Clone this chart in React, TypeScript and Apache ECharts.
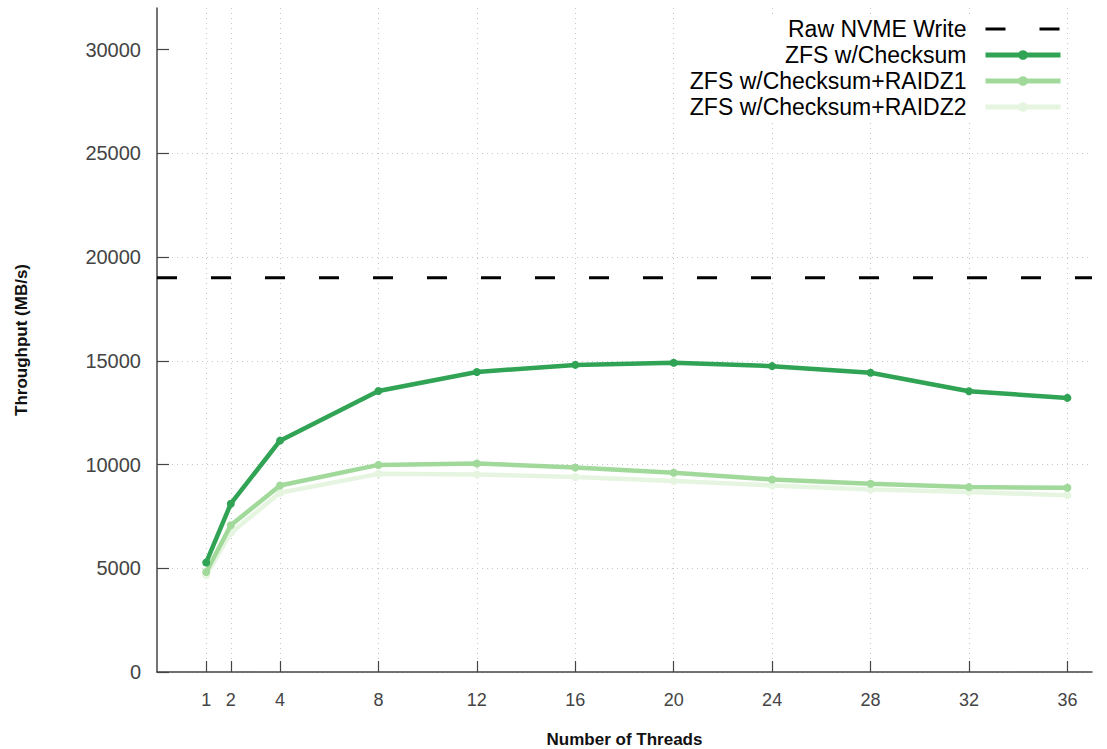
import React, { useEffect, useRef } from "react";
import * as echarts from "echarts";

const threads = [1, 2, 4, 8, 12, 16, 20, 24, 28, 32, 36];
const rawNvme = 19000;
const zfsChecksum = [5280, 8110, 11150, 13540, 14460, 14800, 14900, 14740, 14420, 13530, 13210];
const zfsRaidz1 = [4820, 7070, 8990, 9980, 10050, 9850, 9600, 9280, 9070, 8910, 8880];
const zfsRaidz2 = [4660, 6700, 8640, 9550, 9520, 9400, 9200, 8990, 8800, 8670, 8520];
const yTicks = [0, 5000, 10000, 15000, 20000, 25000, 30000];

const names = [
  "Raw NVME Write",
  "ZFS w/Checksum",
  "ZFS w/Checksum+RAIDZ1",
  "ZFS w/Checksum+RAIDZ2",
];
const colors = ["#000000", "#31a354", "#a1d99b", "#e5f5e0"];

export default function App() {
  const ref = useRef<HTMLDivElement>(null);
  useEffect(() => {
    if (!ref.current) return;
    const chart = echarts.init(ref.current, undefined, { renderer: "svg" });
    const font = "Liberation Sans, Arial, Helvetica, sans-serif";
    const mk = (vals: number[]) => threads.map((t, i) => [t, vals[i]]);
    const lineSeries = (i: number, vals: number[], z: number) => ({
      name: names[i],
      type: "line",
      data: mk(vals),
      symbol: "circle",
      symbolSize: 8,
      z,
      lineStyle: { color: colors[i], width: 4.5 },
      itemStyle: { color: colors[i] },
    });
    chart.setOption({
      animation: false,
      backgroundColor: "#ffffff",
      textStyle: { fontFamily: font },
      grid: {
        left: 157,
        right: 15,
        top: 8,
        bottom: 77,
        containLabel: false,
        outerBoundsMode: "none",
      },
      legend: {
        orient: "vertical",
        right: 44,
        top: 16,
        align: "right",
        itemWidth: 75,
        itemHeight: 12,
        itemGap: 0,
        padding: [0, 0, 0, 6],
        backgroundColor: "#ffffff",
        data: [
          {
            name: names[0],
            itemStyle: { color: "rgba(0,0,0,0)", borderWidth: 0 },
            lineStyle: { width: 3 },
          },
          { name: names[1], lineStyle: { width: 5 } },
          { name: names[2], lineStyle: { width: 5 } },
          { name: names[3], lineStyle: { width: 5 } },
        ],
        textStyle: {
          fontSize: 23,
          color: "#000",
          fontFamily: font,
          lineHeight: 26,
          padding: [0, 14, 0, 0],
        },
      },
      xAxis: {
        type: "value",
        min: -1,
        max: 37,
        name: "Number of Threads",
        nameLocation: "middle",
        nameGap: 59,
        nameTextStyle: { fontSize: 17, fontWeight: "bold", color: "#111" },
        axisLine: { onZero: false, lineStyle: { color: "#444", width: 1.5 } },
        axisTick: {
          inside: true,
          length: 11,
          customValues: threads,
          lineStyle: { color: "#444", width: 1.2 },
        },
        axisLabel: {
          customValues: threads,
          fontSize: 18,
          color: "#444",
          margin: 19,
        },
        splitLine: {
          show: true,
          lineStyle: { color: "#c8c8c8", type: [1, 4], width: 1 },
        },
      },
      yAxis: {
        type: "value",
        min: 0,
        max: 32000,
        name: "Throughput (MB/s)",
        nameLocation: "middle",
        nameGap: 127,
        nameTextStyle: { fontSize: 17, fontWeight: "bold", color: "#111" },
        axisLine: {
          show: true,
          onZero: false,
          lineStyle: { color: "#444", width: 1.5 },
        },
        axisTick: {
          show: true,
          inside: true,
          length: 12,
          customValues: yTicks,
          lineStyle: { color: "#444", width: 1.2 },
        },
        axisLabel: {
          customValues: yTicks,
          formatter: (v: number) => String(v),
          fontSize: 20,
          color: "#444",
          margin: 16,
        },
        splitLine: {
          show: true,
          showMaxLine: false,
          lineStyle: { color: "#c8c8c8", type: [1, 4], width: 1 },
        },
      },
      series: [
        {
          name: names[0],
          type: "line",
          data: [
            [-1, rawNvme],
            [37, rawNvme],
          ],
          symbol: "none",
          z: 5,
          lineStyle: { color: colors[0], width: 3, type: [20, 34] },
          itemStyle: { color: colors[0] },
        },
        lineSeries(3, zfsRaidz2, 2),
        lineSeries(2, zfsRaidz1, 3),
        lineSeries(1, zfsChecksum, 4),
      ],
    });
    return () => chart.dispose();
  }, []);
  return (
    <div
      ref={ref}
      style={{ position: "fixed", left: 0, top: 0, width: 1107, height: 749 }}
    />
  );
}
